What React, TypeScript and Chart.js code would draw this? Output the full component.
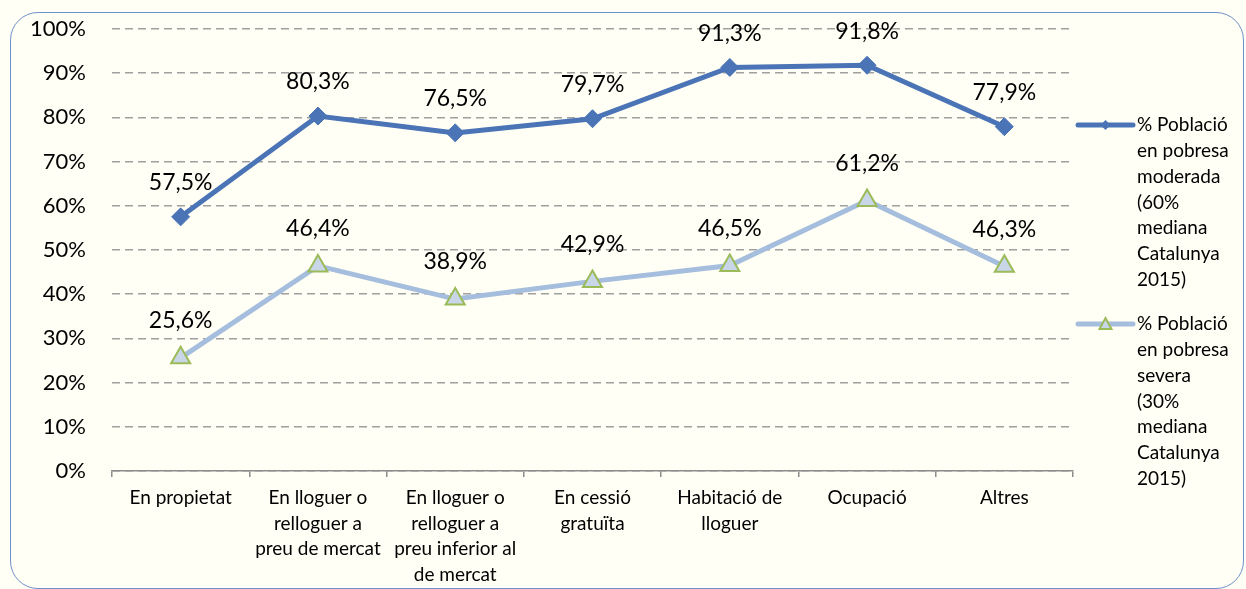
import React, { useEffect, useRef } from "react";
import { Chart, registerables } from "chart.js";

Chart.register(...registerables);

const categories: string[][] = [
  ["En propietat"],
  ["En lloguer o", "relloguer a", "preu de mercat"],
  ["En lloguer o", "relloguer a", "preu inferior al", "de mercat"],
  ["En cessió", "gratuïta"],
  ["Habitació de", "lloguer"],
  ["Ocupació"],
  ["Altres"],
];

const moderada = [57.5, 80.3, 76.5, 79.7, 91.3, 91.8, 77.9];
const severa = [25.6, 46.4, 38.9, 42.9, 46.5, 61.2, 46.3];

const legendModerada = ["% Població", "en pobresa", "moderada", "(60%", "mediana", "Catalunya", "2015)"];
const legendSevera = ["% Població", "en pobresa", "severa", "(30%", "mediana", "Catalunya", "2015)"];

const yTicks = [0, 10, 20, 30, 40, 50, 60, 70, 80, 90, 100];

const FONT = "Lato, 'Noto Sans', sans-serif";
const C1 = "#4a74b6";
const C2 = "#a6bedd";
const TRI_FILL = "#c8d6e8";
const TRI_STROKE = "#9bbb59";

const fmt = (v: number) => v.toFixed(1).replace(".", ",") + "%";

const labelsPlugin = {
  id: "valueLabels",
  afterDatasetsDraw(chart: any) {
    const ctx = chart.ctx;
    const dy = chart.options.plugins.valueLabels.dy;
    ctx.save();
    ctx.font = `23px ${FONT}`;
    ctx.fillStyle = "#000";
    ctx.textAlign = "center";
    ctx.textBaseline = "middle";
    chart.data.datasets.forEach((ds: any, di: number) => {
      const meta = chart.getDatasetMeta(di);
      meta.data.forEach((pt: any, i: number) => {
        ctx.fillText(fmt(ds.data[i]), pt.x, pt.y - dy[di]);
      });
    });
    ctx.restore();
  },
};

const legendPlugin = {
  id: "sideLegend",
  afterDraw(chart: any) {
    const ctx = chart.ctx;
    const o = chart.options.plugins.sideLegend;
    ctx.save();
    o.items.forEach((it: any) => {
      ctx.strokeStyle = it.color;
      ctx.lineWidth = 5;
      ctx.lineCap = "round";
      ctx.beginPath();
      ctx.moveTo(o.x0, it.y);
      ctx.lineTo(o.x1, it.y);
      ctx.stroke();
      const mx = (o.x0 + o.x1) / 2;
      if (it.marker === "diamond") {
        ctx.fillStyle = it.color;
        ctx.beginPath();
        ctx.moveTo(mx, it.y - 5);
        ctx.lineTo(mx + 5, it.y);
        ctx.lineTo(mx, it.y + 5);
        ctx.lineTo(mx - 5, it.y);
        ctx.closePath();
        ctx.fill();
      } else {
        ctx.fillStyle = TRI_FILL;
        ctx.strokeStyle = TRI_STROKE;
        ctx.lineWidth = 2;
        ctx.lineCap = "butt";
        ctx.beginPath();
        ctx.moveTo(mx, it.y - 6);
        ctx.lineTo(mx + 6, it.y + 5);
        ctx.lineTo(mx - 6, it.y + 5);
        ctx.closePath();
        ctx.fill();
        ctx.stroke();
      }
      ctx.fillStyle = "#000";
      ctx.font = `19px ${FONT}`;
      ctx.textAlign = "left";
      ctx.textBaseline = "middle";
      it.lines.forEach((l: string, k: number) => {
        ctx.fillText(l, o.x1 + 4, it.y + k * o.lh);
      });
    });
    ctx.restore();
  },
};

export default function App() {
  const ref = useRef<HTMLCanvasElement>(null);
  useEffect(() => {
    if (!ref.current) return;
    const chart = new Chart(ref.current, {
      type: "line",
      data: {
        labels: categories,
        datasets: [
          {
            label: legendModerada.join(" "),
            data: moderada,
            borderColor: C1,
            backgroundColor: C1,
            borderWidth: 5,
            pointStyle: "rectRot",
            pointRadius: 9,
            pointBackgroundColor: C1,
            pointBorderColor: C1,
            pointBorderWidth: 1,
            tension: 0,
          },
          {
            label: legendSevera.join(" "),
            data: severa,
            borderColor: C2,
            backgroundColor: C2,
            borderWidth: 5,
            pointStyle: "triangle",
            pointRadius: 11,
            pointBackgroundColor: TRI_FILL,
            pointBorderColor: TRI_STROKE,
            pointBorderWidth: 2,
            tension: 0,
          },
        ],
      },
      options: {
        animation: false,
        responsive: false,
        layout: { autoPadding: false, padding: { top: 29, right: 173, bottom: 0, left: 0 } },
        plugins: {
          legend: { display: false },
          tooltip: { enabled: false },
          valueLabels: { dy: [34, 37] },
          sideLegend: {
            x0: 1078,
            x1: 1133,
            lh: 25.8,
            items: [
              { y: 125, color: C1, marker: "diamond", lines: legendModerada },
              { y: 324, color: C2, marker: "triangle", lines: legendSevera },
            ],
          },
        } as any,
        scales: {
          x: {
            offset: true,
            grid: {
              offset: true,
              drawOnChartArea: false,
              drawTicks: true,
              tickLength: 6,
              color: "#8c8c8c",
              lineWidth: 1.5,
            },
            border: { display: true, color: "#8c8c8c", width: 1.5 },
            ticks: {
              color: "#000",
              font: { family: FONT, size: 19, lineHeight: 1.35 },
              padding: 8,
              maxRotation: 0,
              autoSkip: false,
            },
            afterFit(scale: any) {
              scale.height = 589 - 471;
              scale.paddingTop = 0;
              scale.paddingBottom = 0;
            },
          },
          y: {
            min: 0,
            max: 100,
            afterBuildTicks(scale: any) {
              scale.ticks = yTicks.map((v) => ({ value: v }));
            },
            grid: {
              drawTicks: false,
              color: "#a0a0a0",
              lineWidth: 1.5,
            },
            border: { display: false, dash: [8, 5] },
            ticks: {
              color: "#000",
              font: { family: FONT, size: 22 },
              padding: 26,
              callback: (v: any) => v + "%",
            },
            afterFit(scale: any) {
              scale.width = 112;
              scale.paddingTop = 0;
              scale.paddingBottom = 0;
            },
          },
        },
      },
      plugins: [labelsPlugin, legendPlugin],
    });
    return () => chart.destroy();
  }, []);

  return (
    <div
      style={{
        position: "fixed",
        left: 0,
        top: 0,
        width: 1246,
        height: 589,
        background: "#fffff5",
        overflow: "hidden",
      }}
    >
      <div
        style={{
          position: "absolute",
          left: 10,
          top: 12,
          width: 1234,
          height: 577,
          boxSizing: "border-box",
          border: "1.5px solid #6f90c8",
          borderRadius: 28,
        }}
      />
      <canvas
        ref={ref}
        width={1246}
        height={589}
        style={{ position: "absolute", left: 0, top: 0, width: 1246, height: 589 }}
      />
    </div>
  );
}
